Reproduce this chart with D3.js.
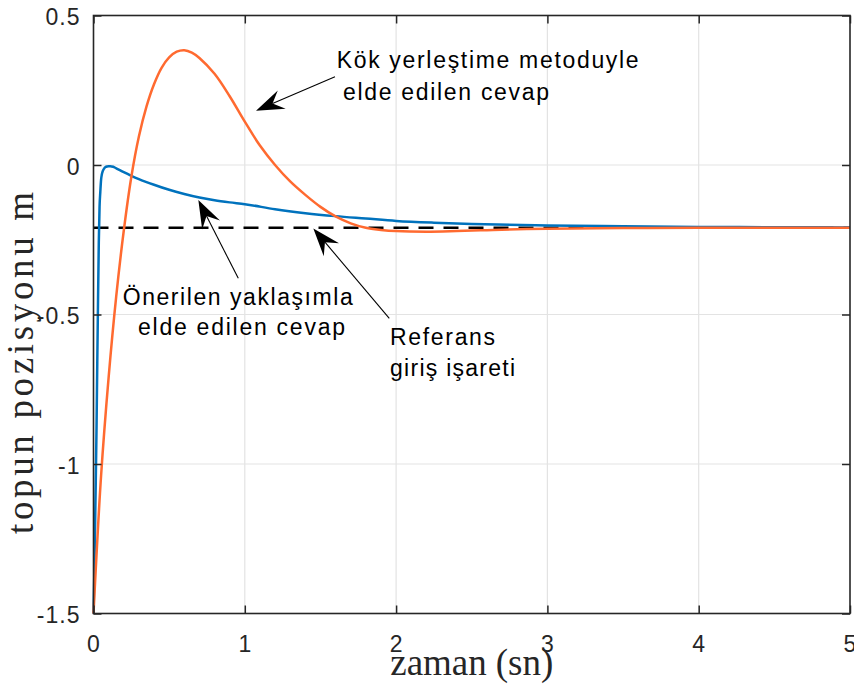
<!DOCTYPE html>
<html><head><meta charset="utf-8">
<script src="https://cdn.jsdelivr.net/npm/d3@7"></script>
<style>body{margin:0;background:#fff} svg{display:block}</style>
</head><body>
<script>
// ---- data ----
const timeBlue = [0,0.005,0.01,0.015,0.02,0.025,0.03,0.035,0.04,0.045,0.05,0.055,0.06,0.07,0.08,0.09,0.1,0.11,0.13,0.15,0.2,0.25,0.3,0.4,0.5,0.6,0.7,0.8,0.9,1.0,1.2,1.4,1.6,1.8,2.0,2.25,2.5,3.0,3.5,4.0,4.5,5.0];
const blueValues = [-1.5,-1.38,-1.22,-1.06,-0.88,-0.66,-0.45,-0.26,-0.14,-0.09,-0.05,-0.032,-0.022,-0.012,-0.007,-0.005,-0.004,-0.004,-0.006,-0.011,-0.024,-0.036,-0.047,-0.066,-0.083,-0.097,-0.109,-0.118,-0.125,-0.131,-0.148,-0.161,-0.171,-0.179,-0.187,-0.193,-0.197,-0.202,-0.205,-0.207,-0.208,-0.209];
const timeOrange = [0,0.05,0.1,0.15,0.2,0.25,0.3,0.35,0.4,0.45,0.5,0.55,0.6,0.65,0.7,0.8,0.9,1.0,1.1,1.2,1.3,1.4,1.5,1.6,1.7,1.8,1.9,2.0,2.2,2.4,2.6,2.8,3.0,3.5,4.0,5.0];
const orangeValues = [-1.5,-1.04,-0.71,-0.44,-0.22,-0.04,0.095,0.195,0.27,0.325,0.36,0.379,0.384,0.376,0.358,0.305,0.23,0.145,0.065,0.0,-0.055,-0.1,-0.14,-0.172,-0.195,-0.21,-0.217,-0.221,-0.223,-0.221,-0.218,-0.215,-0.213,-0.211,-0.21,-0.21];
const referenceValue = -0.21;
const xTickValues = [0,1,2,3,4,5];
const xTickLabels = ["0","1","2","3","4","5"];
const yTickValues = [-1.5,-1,-0.5,0,0.5];
const yTickLabels = ["-1.5","-1","-0.5","0","0.5"];
const xAxisTitle = "zaman (sn)";
const yAxisTitle = "topun pozisyonu m";

// annotation texts (anchored in data units)
const noteLines = [
  {text:"Kök yerleştime metoduyle", t:1.607, v:0.323, w:302},
  {text:"elde edilen cevap", t:1.649, v:0.217, w:206},
  {text:"Önerilen yaklaşımla", t:0.193, v:-0.468, w:230},
  {text:"elde edilen cevap", t:0.294, v:-0.569, w:207},
  {text:"Referans", t:1.960, v:-0.602, w:105},
  {text:"giriş işareti", t:1.960, v:-0.706, w:125}
];
const noteArrows = [
  {tipT:1.074, tipV:0.1816, tailT:1.596, tailV:0.295},
  {tipT:0.693, tipV:-0.117, tailT:0.957, tailV:-0.379},
  {tipT:1.453, tipV:-0.212, tailT:1.955, tailV:-0.513}
];

// ---- layout ----
const W = 854, H = 686;
const L = 93.5, R = 850, T = 15.5, B = 613.5;
const sans = "'Liberation Sans', Arial, Helvetica, sans-serif";
const serif = "'Liberation Serif', 'Times New Roman', serif";
const axisColor = "#262626";

const svg = d3.select("body").append("svg").attr("width", W).attr("height", H);
svg.append("rect").attr("width", W).attr("height", H).attr("fill", "#fff");

const x = d3.scaleLinear().domain([0,5]).range([L,R]);
const y = d3.scaleLinear().domain([-1.5,0.5]).range([B,T]);

// grid
const grid = svg.append("g");
grid.selectAll(".gx").data(xTickValues.slice(1,-1)).join("line")
  .attr("x1", d=>x(d)).attr("x2", d=>x(d)).attr("y1", T).attr("y2", B)
  .attr("stroke", "#e3e3e3").attr("stroke-width", 1.2);
grid.selectAll(".gy").data(yTickValues.slice(1,-1)).join("line")
  .attr("y1", d=>y(d)).attr("y2", d=>y(d)).attr("x1", L).attr("x2", R)
  .attr("stroke", "#e3e3e3").attr("stroke-width", 1.2);

// reference dashed line
svg.append("line")
  .attr("x1", x(0)).attr("x2", x(5)).attr("y1", y(referenceValue)).attr("y2", y(referenceValue))
  .attr("stroke", "#000").attr("stroke-width", 2.4).attr("stroke-dasharray", "15,10");

svg.append("path")
  .attr("d", d3.line().curve(d3.curveMonotoneX)(timeBlue.map((t,i)=>[x(t), y(blueValues[i])])))
  .attr("fill","none").attr("stroke","#0072BD").attr("stroke-width",2.5);
svg.append("path")
  .attr("d", d3.line().curve(d3.curveCatmullRom.alpha(0.5))(timeOrange.map((t,i)=>[x(t), y(orangeValues[i])])))
  .attr("fill","none").attr("stroke","#FF6A30").attr("stroke-width",2.5);

// axes ticks
const tickStyle = g => {
  g.select(".domain").remove();
  g.selectAll(".tick line").attr("stroke", axisColor).attr("stroke-width", 1.5);
  g.selectAll(".tick text").attr("fill", axisColor).attr("font-family", sans)
    .attr("font-size", 23).attr("letter-spacing", "1px");
};
const xb = svg.append("g").attr("transform", `translate(0,${B})`)
  .call(d3.axisBottom(x).tickValues(xTickValues).tickFormat((d,i)=>xTickLabels[i]).tickSize(-8))
  .call(tickStyle);
xb.selectAll(".tick text").attr("y", 38.5).attr("dy", null);
svg.append("g").attr("transform", `translate(0,${T})`)
  .call(d3.axisTop(x).tickValues(xTickValues).tickFormat("").tickSize(-8)).call(tickStyle);
const yl = svg.append("g").attr("transform", `translate(${L},0)`)
  .call(d3.axisLeft(y).tickValues(yTickValues).tickFormat(d=>yTickLabels[yTickValues.indexOf(d)]).tickSize(-8))
  .call(tickStyle);
yl.selectAll(".tick text").attr("x", -13).attr("y", 9).attr("dy", null);
svg.append("g").attr("transform", `translate(${R},0)`)
  .call(d3.axisRight(y).tickValues(yTickValues).tickFormat("").tickSize(-8)).call(tickStyle);

svg.append("rect").attr("x", L).attr("y", T).attr("width", R-L).attr("height", B-T)
  .attr("fill","none").attr("stroke", axisColor).attr("stroke-width", 1.6);

// axis titles
svg.append("text").attr("x", (L+R)/2).attr("y", 675).attr("text-anchor","middle")
  .attr("font-family", serif).attr("font-size", 37).attr("fill", axisColor)
  .attr("textLength", 163).attr("lengthAdjust","spacing").text(xAxisTitle);
svg.append("text").attr("transform","translate(33,363) rotate(-90)").attr("text-anchor","middle")
  .attr("font-family", serif).attr("font-size", 37).attr("fill", axisColor)
  .attr("textLength", 342).attr("lengthAdjust","spacing").text(yAxisTitle);

// annotations
svg.selectAll(".note").data(noteLines).join("text")
  .attr("x", d=>x(d.t)).attr("y", d=>y(d.v))
  .attr("font-family", sans).attr("font-size", 23).attr("fill", "#000")
  .attr("textLength", d=>d.w).attr("lengthAdjust","spacing").text(d=>d.text);

noteArrows.forEach(a => {
  const tx = x(a.tipT), ty = y(a.tipV), sx = x(a.tailT), sy = y(a.tailV);
  const dx = sx - tx, dy = sy - ty, len = Math.hypot(dx, dy);
  const ux = dx/len, uy = dy/len, px = -uy, py = ux;
  const headL = 28, halfW = 10, notch = 18;
  svg.append("line").attr("x1", sx).attr("y1", sy).attr("x2", tx+ux*notch).attr("y2", ty+uy*notch)
    .attr("stroke","#000").attr("stroke-width",1.1);
  const pts = [
    [tx, ty],
    [tx+ux*headL+px*halfW, ty+uy*headL+py*halfW],
    [tx+ux*notch, ty+uy*notch],
    [tx+ux*headL-px*halfW, ty+uy*headL-py*halfW]
  ];
  svg.append("path").attr("d", "M"+pts.map(p=>p.join(",")).join("L")+"Z").attr("fill","#000");
});
</script>
</body></html>
